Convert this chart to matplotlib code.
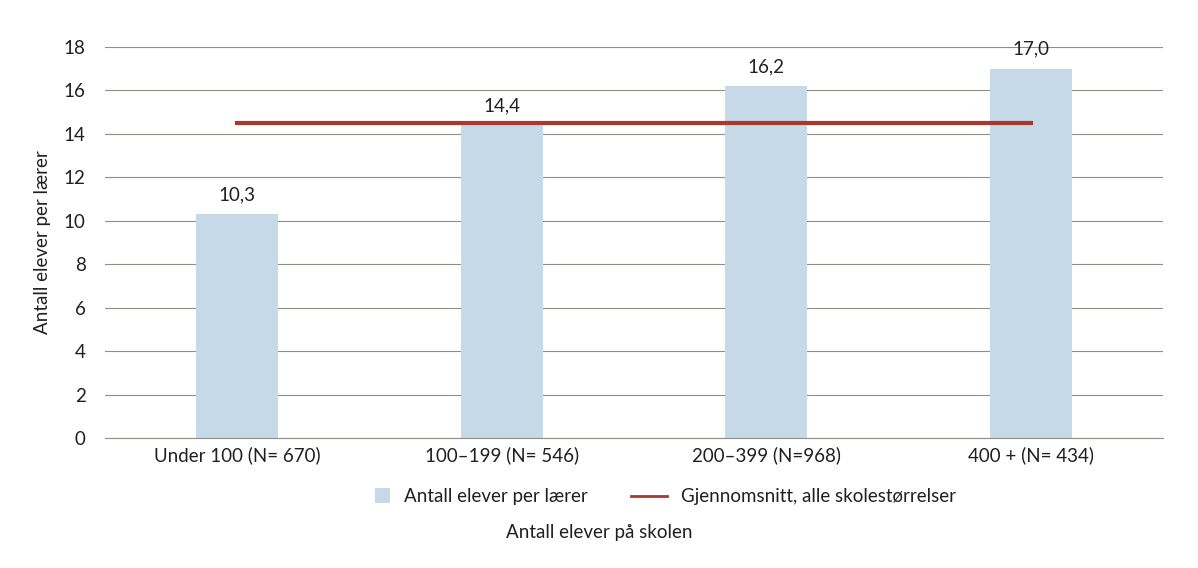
import matplotlib
matplotlib.use("Agg")
import matplotlib.pyplot as plt
from matplotlib.lines import Line2D
from matplotlib.patches import Rectangle
from matplotlib.legend_handler import HandlerPatch
import numpy as np

# data
categories = ["Under 100 (N= 670)", "100–199 (N= 546)", "200–399 (N=968)", "400 + (N= 434)"]
values = [10.3, 14.4, 16.2, 17.0]
average = 14.5
value_labels = ["10,3", "14,4", "16,2", "17,0"]

bar_color = "#c5d9e9"
line_color = "#a8392b"
text_color = "#231f20"

plt.rcParams['font.family'] = ['Lato', 'DejaVu Sans']

fig = plt.figure(figsize=(11.98, 5.68), dpi=100)
ax = fig.add_axes([0.0876, 0.2289, 0.8832, 0.6884])

x = np.arange(len(categories))
ax.bar(x, values, width=0.31, color=bar_color, zorder=2)
ax.plot(x, [average] * len(x), color=line_color, linewidth=3, zorder=3)

for xi, v, lab in zip(x, values, value_labels):
    ax.text(xi, v + 0.5, lab, ha="center", va="bottom", fontsize=13.5, color=text_color)

ax.set_xlim(-0.5, 3.5)
ax.set_ylim(0, 18)
ax.set_yticks(range(0, 19, 2))
ax.set_xticks(x)
ax.set_xticklabels(categories)
ax.yaxis.grid(True, color="#8f8f88", linewidth=0.8, zorder=0)
ax.set_axisbelow(True)
for s in ["top", "right", "left"]:
    ax.spines[s].set_visible(False)
ax.spines["bottom"].set_color("#8f8f88")
ax.tick_params(axis="both", length=0, labelsize=13.5, colors=text_color)
ax.tick_params(axis="x", pad=6)
ax.tick_params(axis="y", pad=14)

ax.set_ylabel("Antall elever per lærer", fontsize=13.5, color=text_color, labelpad=9)
fig.text(0.5, 0.062, "Antall elever på skolen", ha="center", va="center",
         fontsize=13.5, color=text_color)


# small square for the bar series, pushed to the right of the handle box
def square_patch(legend, orig_handle, xdescent, ydescent, width, height, fontsize):
    side = 10.8
    return Rectangle((width - side - xdescent, (height - side) / 2 - ydescent), side, side)


handles = [
    Rectangle((0, 0), 1, 1, facecolor=bar_color, edgecolor="none"),
    Line2D([], [], color=line_color, linewidth=2),
]
labels = ["Antall elever per lærer", "Gjennomsnitt, alle skolestørrelser"]
ax.legend(handles, labels, loc="upper center", bbox_to_anchor=(0.52, -0.085), ncol=2,
          frameon=False, fontsize=13.5, handlelength=1.9, columnspacing=2.3,
          handletextpad=0.75, labelcolor=text_color,
          handler_map={Rectangle: HandlerPatch(patch_func=square_patch)})

fig.savefig("out.png", dpi=100)
